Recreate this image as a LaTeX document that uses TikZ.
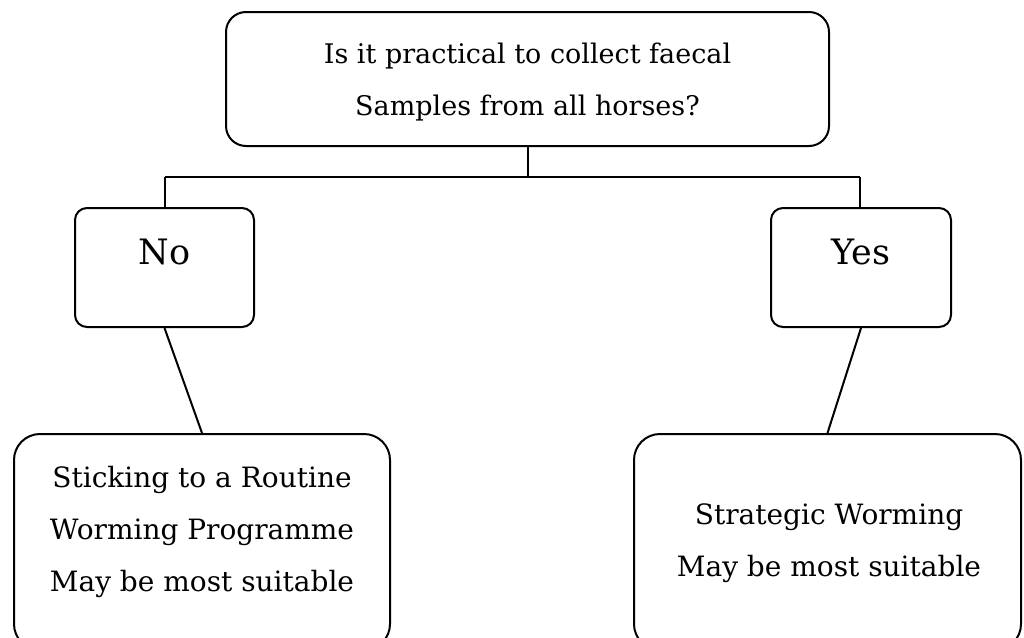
\documentclass[tikz,border=0pt]{standalone}
\usepackage{fontspec}
\setmainfont{DejaVu Serif}
\begin{document}
\begin{tikzpicture}[x=1pt,y=-1pt,
  box/.style={draw=black,line width=2pt,rectangle,inner sep=0pt},
  txt/.style={inner sep=0pt,anchor=base,align=center,font=\fontsize{28pt}{52pt}\selectfont},
  toptxt/.style={txt,font=\fontsize{27pt}{52pt}\selectfont},
  big/.style={inner sep=0pt,anchor=base,font=\fontsize{35pt}{42pt}\selectfont},
  link/.style={draw=black,line width=2pt}]
\useasboundingbox (0,0) rectangle (1024,637);
\fill[white] (0,0) rectangle (1024,637);
\clip (0,0) rectangle (1024,637);
% boxes
\node[box,rounded corners=20pt,minimum width=603pt,minimum height=134pt] (q) at (527.5,79) {};
\node[box,rounded corners=12pt,minimum width=179pt,minimum height=119pt] (no) at (164.5,267.5) {};
\node[box,rounded corners=12pt,minimum width=180pt,minimum height=119pt] (yes) at (861,267.5) {};
\node[box,rounded corners=26pt,minimum width=376pt,minimum height=216pt] (rout) at (202,542) {};
\node[box,rounded corners=26pt,minimum width=387pt,minimum height=216pt] (strat) at (827.5,542) {};
% texts (base anchor = baseline of the last line)
\node[toptxt] (qt) at (527.5,115) {Is it practical to collect faecal\\Samples from all horses?};
\node[big] (not) at (164.5,264) {No};
\node[big] (yest) at (861,264) {Yes};
\node[txt] (routt) at (202,591) {Sticking to a Routine\\Worming Programme\\May be most suitable};
\node[txt] (stratt) at (829,576) {Strategic Worming\\May be most suitable};
% connectors
\coordinate (j) at (527.5,177);
\coordinate (jl) at (164.5,177);
\coordinate (jr) at (860,177);
\draw[link] (q.south) -- (j);
\draw[link] (jl) -- (jr);
\draw[link] (jl) -- (no.north);
\draw[link] (jr) -- (yes.north -| jr);
\draw[link] (no.south) -- (rout.north);
\draw[link] (yes.south) -- (strat.north);
\end{tikzpicture}
\end{document}
